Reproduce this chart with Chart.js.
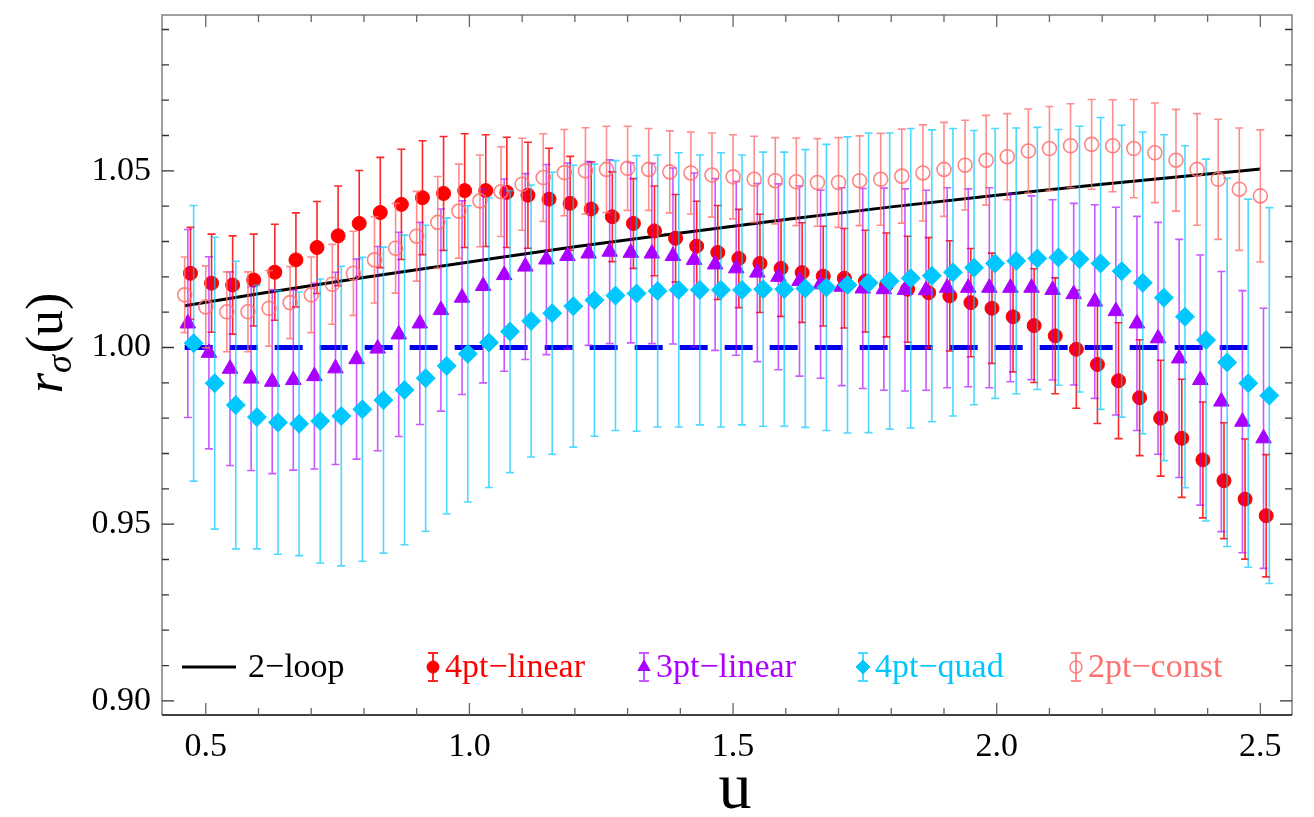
<!DOCTYPE html>
<html>
<head>
<meta charset="utf-8">
<title>r_sigma(u)</title>
<script src="https://cdn.jsdelivr.net/npm/chart.js@4.4.1/dist/chart.umd.min.js"></script>
<style>
  html, body { margin: 0; padding: 0; background: #fff; }
  #chart { display: block; }
</style>
</head>
<body>
<canvas id="chart" width="1314" height="817"></canvas>
<script>
// u grid shared by the four extrapolations
const u = [0.46, 0.50, 0.54, 0.58, 0.62, 0.66, 0.70, 0.74, 0.78, 0.82,
           0.86, 0.90, 0.94, 0.98, 1.02, 1.06, 1.10, 1.14, 1.18, 1.22,
           1.26, 1.30, 1.34, 1.38, 1.42, 1.46, 1.50, 1.54, 1.58, 1.62,
           1.66, 1.70, 1.74, 1.78, 1.82, 1.86, 1.90, 1.94, 1.98, 2.02,
           2.06, 2.10, 2.14, 2.18, 2.22, 2.26, 2.30, 2.34, 2.38, 2.42,
           2.46, 2.50];

// 4pt-linear
const linear4 = [1.0210, 1.0182, 1.0177, 1.0191, 1.0213, 1.0248, 1.0283, 1.0316, 1.0351, 1.0382,
                 1.0405, 1.0424, 1.0436, 1.0444, 1.0444, 1.0439, 1.0431, 1.0420, 1.0408, 1.0392,
                 1.0370, 1.0351, 1.0330, 1.0309, 1.0287, 1.0269, 1.0252, 1.0238, 1.0224, 1.0212,
                 1.0202, 1.0196, 1.0188, 1.0177, 1.0165, 1.0155, 1.0146, 1.0127, 1.0111, 1.0087,
                 1.0062, 1.0033, 0.9995, 0.9952, 0.9906, 0.9858, 0.9800, 0.9743, 0.9682, 0.9623,
                 0.9571, 0.9524];
const linear4Err = [0.0130, 0.0139, 0.0139, 0.0130, 0.0136, 0.0133, 0.0130, 0.0141, 0.0150, 0.0156,
                    0.0156, 0.0161, 0.0161, 0.0161, 0.0158, 0.0156, 0.0150, 0.0144, 0.0133, 0.0133,
                    0.0127, 0.0127, 0.0127, 0.0124, 0.0127, 0.0133, 0.0139, 0.0139, 0.0136, 0.0141,
                    0.0141, 0.0141, 0.0144, 0.0147, 0.0150, 0.0156, 0.0156, 0.0153, 0.0156, 0.0156,
                    0.0161, 0.0164, 0.0167, 0.0167, 0.0164, 0.0164, 0.0164, 0.0167, 0.0164, 0.0164,
                    0.0170, 0.0173];

// 3pt-linear
const linear3 = [1.0068, 0.9985, 0.9940, 0.9912, 0.9903, 0.9908, 0.9919, 0.9941, 0.9967, 0.9997,
                 1.0037, 1.0068, 1.0106, 1.0141, 1.0174, 1.0205, 1.0229, 1.0249, 1.0259, 1.0266,
                 1.0271, 1.0268, 1.0266, 1.0259, 1.0248, 1.0235, 1.0224, 1.0212, 1.0200, 1.0188,
                 1.0179, 1.0172, 1.0167, 1.0165, 1.0163, 1.0162, 1.0169, 1.0169, 1.0169, 1.0169,
                 1.0169, 1.0163, 1.0151, 1.0130, 1.0103, 1.0068, 1.0026, 0.9969, 0.9908, 0.9847,
                 0.9790, 0.9743];
const linear3Err = [0.0266, 0.0272, 0.0274, 0.0260, 0.0260, 0.0255, 0.0263, 0.0272, 0.0283, 0.0289,
                    0.0289, 0.0286, 0.0286, 0.0274, 0.0274, 0.0272, 0.0263, 0.0269, 0.0263, 0.0260,
                    0.0260, 0.0255, 0.0255, 0.0249, 0.0246, 0.0243, 0.0246, 0.0252, 0.0263, 0.0269,
                    0.0266, 0.0280, 0.0283, 0.0286, 0.0286, 0.0283, 0.0283, 0.0280, 0.0283, 0.0266,
                    0.0260, 0.0255, 0.0257, 0.0274, 0.0294, 0.0303, 0.0328, 0.0337, 0.0354, 0.0368,
                    0.0371, 0.0368];

// 4pt-quad
const quad4 = [1.0012, 0.9899, 0.9837, 0.9803, 0.9788, 0.9784, 0.9792, 0.9806, 0.9825, 0.9851,
               0.9880, 0.9913, 0.9948, 0.9982, 1.0014, 1.0045, 1.0075, 1.0097, 1.0117, 1.0134,
               1.0147, 1.0153, 1.0160, 1.0163, 1.0163, 1.0163, 1.0163, 1.0165, 1.0165, 1.0167,
               1.0170, 1.0177, 1.0183, 1.0188, 1.0196, 1.0203, 1.0213, 1.0226, 1.0238, 1.0245,
               1.0252, 1.0255, 1.0250, 1.0238, 1.0216, 1.0183, 1.0141, 1.0087, 1.0021, 0.9958,
               0.9899, 0.9864];
const quad4Err = [0.0390, 0.0413, 0.0407, 0.0373, 0.0373, 0.0373, 0.0402, 0.0424, 0.0430, 0.0433,
                  0.0438, 0.0433, 0.0419, 0.0419, 0.0410, 0.0399, 0.0385, 0.0399, 0.0399, 0.0385,
                  0.0382, 0.0390, 0.0385, 0.0388, 0.0382, 0.0388, 0.0382, 0.0388, 0.0388, 0.0393,
                  0.0405, 0.0419, 0.0424, 0.0419, 0.0424, 0.0413, 0.0407, 0.0388, 0.0382, 0.0376,
                  0.0371, 0.0362, 0.0376, 0.0413, 0.0413, 0.0427, 0.0461, 0.0484, 0.0512, 0.0521,
                  0.0521, 0.0532];

// 2pt-const
const const2 = [1.0149, 1.0115, 1.0101, 1.0101, 1.0111, 1.0127, 1.0149, 1.0179, 1.0210, 1.0248,
                1.0281, 1.0315, 1.0354, 1.0386, 1.0415, 1.0441, 1.0462, 1.0481, 1.0495, 1.0500,
                1.0504, 1.0507, 1.0504, 1.0497, 1.0494, 1.0488, 1.0483, 1.0476, 1.0472, 1.0469,
                1.0467, 1.0467, 1.0472, 1.0476, 1.0485, 1.0494, 1.0504, 1.0516, 1.0530, 1.0540,
                1.0556, 1.0563, 1.0571, 1.0575, 1.0571, 1.0563, 1.0551, 1.0530, 1.0504, 1.0476,
                1.0448, 1.0429];
const const2Err = [0.0107, 0.0116, 0.0113, 0.0113, 0.0107, 0.0102, 0.0107, 0.0113, 0.0119, 0.0122,
                   0.0127, 0.0127, 0.0130, 0.0133, 0.0130, 0.0127, 0.0130, 0.0124, 0.0122, 0.0122,
                   0.0122, 0.0119, 0.0116, 0.0116, 0.0116, 0.0119, 0.0119, 0.0122, 0.0122, 0.0124,
                   0.0124, 0.0127, 0.0127, 0.0130, 0.0133, 0.0136, 0.0133, 0.0127, 0.0127, 0.0122,
                   0.0119, 0.0119, 0.0119, 0.0127, 0.0130, 0.0139, 0.0141, 0.0144, 0.0158, 0.0170,
                   0.0173, 0.0187];

// 2-loop curve and the unity reference line
const loopU   = [0.46, 0.60, 0.80, 1.00, 1.20, 1.40, 1.60, 1.80, 2.00, 2.20, 2.40, 2.50];
const loopVal = [1.0118, 1.0152, 1.0198, 1.0242, 1.0285, 1.0324, 1.0362, 1.0398, 1.0431, 1.0462, 1.0491, 1.0505];
const unityU   = [0.46, 2.50];
const unityVal = [1.00, 1.00];

const xTicks = [0.5, 1.0, 1.5, 2.0, 2.5];
const yTicks = [0.90, 0.95, 1.00, 1.05];

const serif = "'Liberation Serif', 'DejaVu Serif', serif";

function pts(xs, ys, dodge) {
  return xs.map((x, i) => ({x: x + (dodge || 0), y: ys[i]}));
}

/* error bars, drawn just before each series' markers */
const errorBars = {
  id: 'errorBars',
  beforeDatasetDraw(chart, args) {
    const ds = chart.data.datasets[args.index];
    if (!ds.errors) return;
    const xs = chart.scales.x, ys = chart.scales.y;
    const ctx = chart.ctx;
    ctx.save();
    ctx.strokeStyle = ds.barColor;
    ctx.lineWidth = 1.6;
    ds.data.forEach((p, i) => {
      const px = xs.getPixelForValue(p.x);
      const top = ys.getPixelForValue(p.y + ds.errors[i]);
      const bot = ys.getPixelForValue(p.y - ds.errors[i]);
      ctx.beginPath();
      ctx.moveTo(px, top); ctx.lineTo(px, bot);
      ctx.moveTo(px - 4, top); ctx.lineTo(px + 4, top);
      ctx.moveTo(px - 4, bot); ctx.lineTo(px + 4, bot);
      ctx.stroke();
    });
    ctx.restore();
  }
};

/* frame with inward ticks on all four sides */
const frame = {
  id: 'frame',
  afterDatasetsDraw(chart) {
    const {ctx, chartArea: a} = chart;
    const xs = chart.scales.x, ys = chart.scales.y;
    ctx.save();
    ctx.lineWidth = 1.5;
    ctx.strokeStyle = '#808080';
    ctx.beginPath();
    ctx.moveTo(a.left, a.bottom); ctx.lineTo(a.left, a.top);
    ctx.lineTo(a.right, a.top); ctx.lineTo(a.right, a.bottom);
    ctx.stroke();
    ctx.strokeStyle = '#000';
    ctx.beginPath();
    ctx.moveTo(a.left, a.bottom); ctx.lineTo(a.right, a.bottom);
    ctx.stroke();

    ctx.lineWidth = 1.3;
    ctx.strokeStyle = '#333';
    for (let k = 90; k <= 109; k++) {
      const v = k / 100;
      const len = (k % 5 === 0) ? 12 : 7;
      const py = ys.getPixelForValue(v);
      ctx.beginPath();
      ctx.moveTo(a.left, py); ctx.lineTo(a.left + len, py);
      ctx.moveTo(a.right, py); ctx.lineTo(a.right - len, py);
      ctx.stroke();
    }
    ctx.strokeStyle = '#666';
    for (let k = 5; k <= 25; k++) {
      const v = k / 10;
      const len = (k % 5 === 0) ? 12 : 7;
      const px = xs.getPixelForValue(v);
      ctx.beginPath();
      ctx.moveTo(px, a.bottom); ctx.lineTo(px, a.bottom - len);
      ctx.moveTo(px, a.top); ctx.lineTo(px, a.top + len);
      ctx.stroke();
    }
    ctx.restore();
  }
};

/* axis titles and the in-plot legend */
const annotate = {
  id: 'annotate',
  afterDraw(chart) {
    const ctx = chart.ctx;
    ctx.save();
    ctx.fillStyle = '#000';

    // x title
    ctx.font = '66px ' + serif;
    ctx.textAlign = 'center';
    ctx.textBaseline = 'alphabetic';
    ctx.fillText('u', 735, 808);

    // y title r_sigma(u), rotated
    ctx.translate(62, 343);
    ctx.rotate(-Math.PI / 2);
    ctx.textAlign = 'left';
    const fBig = 'italic 52px ' + serif;
    const fSub = 'italic 36px ' + serif;
    const fReg = '52px ' + serif;
    ctx.font = fBig; const wR = ctx.measureText('r').width;
    ctx.font = fSub; const wS = ctx.measureText('σ').width;
    ctx.font = fReg; const wP = ctx.measureText('(u)').width;
    let x0 = -(wR + wS + wP + 2) / 2;
    ctx.font = fBig; ctx.fillText('r', x0, 0); x0 += wR;
    ctx.font = fSub; ctx.fillText('σ', x0, 9); x0 += wS + 2;
    ctx.font = fReg; ctx.fillText('(u)', x0, 0);
    ctx.restore();

    // legend
    const ly = 667;
    const items = chart.data.datasets.filter(d => d.legendX !== undefined);
    ctx.save();
    ctx.font = '34px ' + serif;
    ctx.textAlign = 'left';
    ctx.textBaseline = 'middle';
    items.forEach(d => {
      const ix = d.legendX;
      if (d.errors) {
        ctx.strokeStyle = d.barColor;
        ctx.lineWidth = 2;
        ctx.beginPath();
        ctx.moveTo(ix, ly - 14); ctx.lineTo(ix, ly + 14);
        ctx.moveTo(ix - 5, ly - 14); ctx.lineTo(ix + 5, ly - 14);
        ctx.moveTo(ix - 5, ly + 14); ctx.lineTo(ix + 5, ly + 14);
        ctx.stroke();
        ctx.fillStyle = d.backgroundColor;
        ctx.strokeStyle = d.borderColor;
        ctx.lineWidth = d.borderWidth;
        Chart.helpers.drawPoint(ctx, {
          pointStyle: d.pointStyle, radius: d.legendRadius, rotation: 0,
          borderWidth: d.borderWidth
        }, ix, ly);
        ctx.fillStyle = d.textColor;
        ctx.fillText(d.label, ix + 12, ly + 1);
      } else {
        ctx.strokeStyle = d.borderColor;
        ctx.lineWidth = 3;
        ctx.beginPath();
        ctx.moveTo(ix, ly); ctx.lineTo(ix + 54, ly);
        ctx.stroke();
        ctx.fillStyle = d.textColor;
        ctx.fillText(d.label, ix + 66, ly + 1);
      }
    });
    ctx.restore();
  }
};

const red = 'rgb(255,0,0)';
const purple = 'rgb(170,0,255)';
const cyan = 'rgb(0,200,255)';
const pink = 'rgb(255,112,112)';

new Chart(document.getElementById('chart'), {
  type: 'scatter',
  data: {
    datasets: [
      {
        label: '2\u2212loop', data: pts(loopU, loopVal), showLine: true,
        borderColor: '#000', borderWidth: 3, pointRadius: 0,
        cubicInterpolationMode: 'monotone', order: 10,
        legendX: 182, textColor: '#000'
      },
      {
        label: 'unity', data: pts(unityU, unityVal), showLine: true,
        borderColor: 'rgb(0,0,235)', borderWidth: 5, borderDash: [28, 17],
        pointRadius: 0, order: 9
      },
      {
        label: '4pt\u2212linear', data: pts(u, linear4, 0.011), errors: linear4Err,
        pointStyle: 'circle', pointRadius: 7, borderWidth: 1,
        backgroundColor: red, borderColor: red, barColor: 'rgba(255,0,0,0.85)',
        order: 4, legendX: 433, legendRadius: 6, textColor: red
      },
      {
        label: '3pt\u2212linear', data: pts(u, linear3, 0.006), errors: linear3Err,
        pointStyle: 'triangle', pointRadius: 9, borderWidth: 1,
        backgroundColor: purple, borderColor: purple, barColor: 'rgba(170,0,255,0.65)',
        order: 3, legendX: 644, legendRadius: 7, textColor: purple
      },
      {
        label: '4pt\u2212quad', data: pts(u, quad4, 0.017), errors: quad4Err,
        pointStyle: 'rectRot', pointRadius: 9.5, borderWidth: 1,
        backgroundColor: cyan, borderColor: cyan, barColor: 'rgba(0,200,255,0.7)',
        order: 2, legendX: 863, legendRadius: 7, textColor: cyan
      },
      {
        label: '2pt\u2212const', data: pts(u, const2, 0), errors: const2Err,
        pointStyle: 'circle', pointRadius: 7, borderWidth: 1.6,
        backgroundColor: 'rgba(0,0,0,0)', borderColor: 'rgba(255,112,112,0.85)',
        barColor: 'rgba(255,112,112,0.8)',
        order: 1, legendX: 1076, legendRadius: 6, textColor: pink
      }
    ]
  },
  options: {
    responsive: false,
    animation: false,
    devicePixelRatio: 1,
    layout: { padding: { left: 0, right: 22, top: 15, bottom: 0 } },
    plugins: { legend: { display: false }, tooltip: { enabled: false } },
    elements: { point: { hoverRadius: 7 } },
    scales: {
      x: {
        type: 'linear', min: 0.417, max: 2.56,
        afterBuildTicks: s => { s.ticks = xTicks.map(v => ({value: v})); },
        afterFit: s => { s.height = 102; s.paddingLeft = 0; s.paddingRight = 0; },
        grid: { display: false, drawTicks: false },
        border: { display: false },
        ticks: {
          color: '#000', padding: 12, maxRotation: 0,
          font: { family: serif, size: 34 },
          callback: v => v.toFixed(1)
        }
      },
      y: {
        type: 'linear', min: 0.896, max: 1.0941,
        afterBuildTicks: s => { s.ticks = yTicks.map(v => ({value: v})); },
        afterFit: s => { s.width = 162; s.paddingTop = 0; s.paddingBottom = 0; },
        grid: { display: false, drawTicks: false },
        border: { display: false },
        ticks: {
          color: '#000', padding: 11,
          font: { family: serif, size: 34 },
          callback: v => v.toFixed(2)
        }
      }
    }
  },
  plugins: [errorBars, frame, annotate]
});
</script>
</body>
</html>
